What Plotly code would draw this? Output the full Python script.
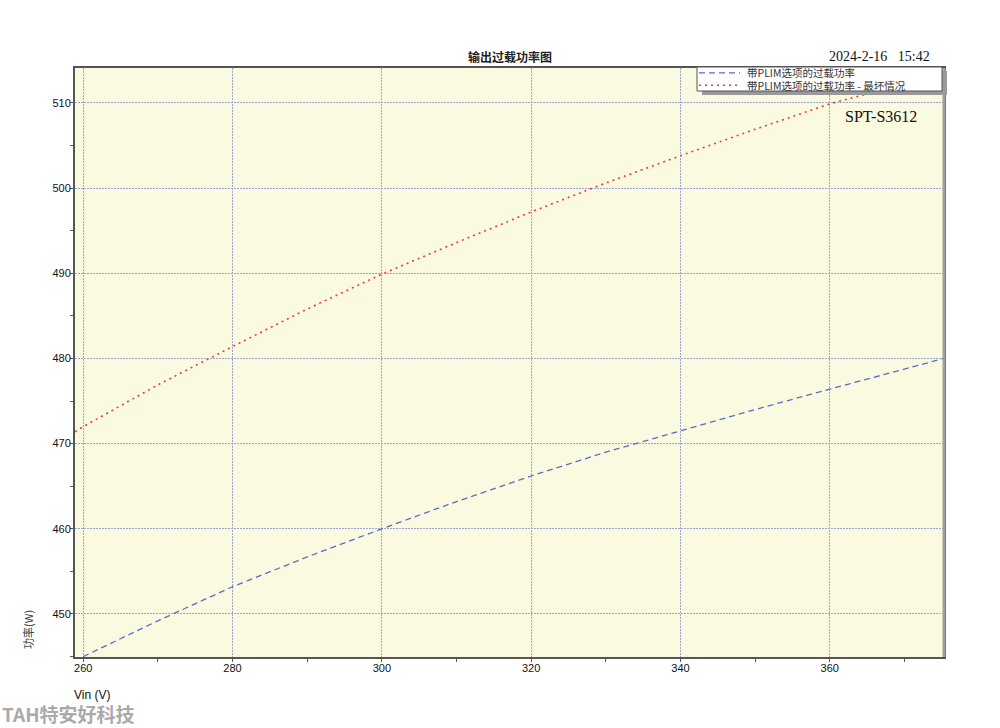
import plotly.graph_objects as go

# ---- data ----
vin_blue = [260, 270, 280, 290, 300, 310, 320, 330, 340, 350, 360, 370, 375.3]
power_blue = [445.0, 449.2, 453.2, 456.7, 460.0, 463.2, 466.2, 469.0, 471.5, 474.0, 476.4, 478.7, 480.0]

vin_red = [258.9, 260, 270, 280, 290, 300, 310, 320, 330, 340, 350, 360, 370, 375.3]
power_red = [471.4, 472.0, 476.9, 481.4, 485.8, 489.9, 493.6, 497.2, 500.6, 503.8, 506.9, 509.9, 512.2, 513.5]

name_blue = "带PLIM选项的过载功率"
name_red = "带PLIM选项的过载功率 - 最坏情况"
title_text = "输出过载功率图"
date_text = "2024-2-16   15:42"
model_text = "SPT-S3612"
x_title = "Vin (V)"
y_title = "功率(W)"
watermark = "TAH特安好科技"

x_ticks = [260, 280, 300, 320, 340, 360]
y_ticks = [450, 460, 470, 480, 490, 500, 510]

W, H = 1000, 728
ML, MR, MT, MB = 75, 56, 68, 71
PW, PH = W - ML - MR, H - MT - MB

BLUE = "#5b6cc4"
RED = "#f03a3a"
BLUE_DASH = "6px,4px"
RED_DASH = "2px,4px"


def px(x):
    return (x - ML) / PW


def py(y):
    return (H - MB - y) / PH


fig = go.Figure()
fig.add_trace(go.Scatter(x=vin_blue, y=power_blue, mode="lines", name=name_blue,
                         line=dict(color=BLUE, width=1.3, dash=BLUE_DASH)))
fig.add_trace(go.Scatter(x=vin_red, y=power_red, mode="lines", name=name_red,
                         line=dict(color=RED, width=1.6, dash=RED_DASH)))

cjk = "Noto Sans CJK SC"

axis_common = dict(
    showgrid=True, gridcolor="#9ca4d4", griddash="2px,1px", gridwidth=1,
    showline=True, linecolor="#555555", linewidth=2, mirror=True,
    ticks="", tickfont=dict(family="Liberation Sans", size=11, color="#111111"),
    zeroline=False,
)

# legend drawn as a framed box with line samples (compact like the reference)
leg_left, leg_right, leg_top, leg_bottom = 697, 942, 67, 91
row_y = [72.8, 85.2]
legend_shapes = [
    dict(type="rect", xref="paper", yref="paper",
         x0=px(leg_left + 5), x1=px(leg_right + 5), y0=py(leg_bottom + 4), y1=py(leg_top + 4),
         fillcolor="#9a9a9a", line=dict(width=0), layer="above"),
    dict(type="rect", xref="paper", yref="paper",
         x0=px(leg_left), x1=px(leg_right), y0=py(leg_bottom), y1=py(leg_top),
         fillcolor="white", line=dict(color="#555555", width=1), layer="above"),
]
legend_annots = []
for (nm, col, dsh, wd), ry in zip([(name_blue, BLUE, BLUE_DASH, 1.3), (name_red, RED, RED_DASH, 1.6)], row_y):
    legend_shapes.append(dict(type="line", xref="paper", yref="paper",
                              x0=px(699), x1=px(740), y0=py(ry), y1=py(ry),
                              line=dict(color=col, width=wd, dash=dsh), layer="above"))
    legend_annots.append(dict(text=nm, xref="paper", yref="paper", x=px(745), y=py(ry),
                              xanchor="left", yanchor="middle", showarrow=False,
                              font=dict(family=cjk, size=10.5, color="#333333")))

fig.update_layout(
    width=W, height=H,
    margin=dict(l=ML, r=MR, t=MT, b=MB),
    paper_bgcolor="white",
    plot_bgcolor="#fafae0",
    showlegend=False,
    title=dict(text=title_text, x=510 / W, xanchor="center", y=1 - 58 / H, yanchor="middle",
               font=dict(family=cjk, size=12, color="#222222", weight="bold")),
    xaxis=dict(range=[258.9, 375.3], tickvals=x_ticks, ticktext=[str(v) for v in x_ticks],
               minor=dict(ticks="outside", ticklen=3, tick0=260, dtick=10, tickcolor="#555555", showgrid=False),
               **axis_common),
    yaxis=dict(range=[444.95, 514.1], tickvals=y_ticks, ticktext=[str(v) for v in y_ticks],
               minor=dict(ticks="outside", ticklen=3, tick0=450, dtick=5, tickcolor="#555555", showgrid=False),
               **axis_common),
    shapes=[
        dict(type="line", xref="paper", yref="paper", x0=1, x1=1, y0=0, y1=1,
             line=dict(color="#a0a0a0", width=3), layer="above"),
    ] + legend_shapes,
    annotations=[
        dict(text=date_text, xref="paper", yref="paper", x=px(932), y=py(57),
             xanchor="right", yanchor="middle", showarrow=False,
             font=dict(family="Liberation Serif", size=14, color="#111111")),
        dict(text=model_text, xref="paper", yref="paper", x=px(843), y=py(116),
             xanchor="left", yanchor="middle", showarrow=False,
             font=dict(family="Liberation Serif", size=16, color="#111111")),
        dict(text=x_title, xref="paper", yref="paper", x=px(92), y=py(695),
             xanchor="center", yanchor="middle", showarrow=False,
             font=dict(family="Liberation Sans", size=12, color="#111111")),
        dict(text=y_title, xref="paper", yref="paper", x=px(28), y=py(630),
             xanchor="center", yanchor="middle", showarrow=False, textangle=-90,
             font=dict(family=cjk, size=11, color="#444444")),
        dict(text=watermark, xref="paper", yref="paper", x=px(0), y=py(713),
             xanchor="left", yanchor="middle", showarrow=False,
             font=dict(family=cjk, size=19, color="#aaaaaa", weight="bold")),
    ] + legend_annots,
)

fig.write_html("out.html", config={"displayModeBar": False},
               post_script="document.body.style.margin='0';")
